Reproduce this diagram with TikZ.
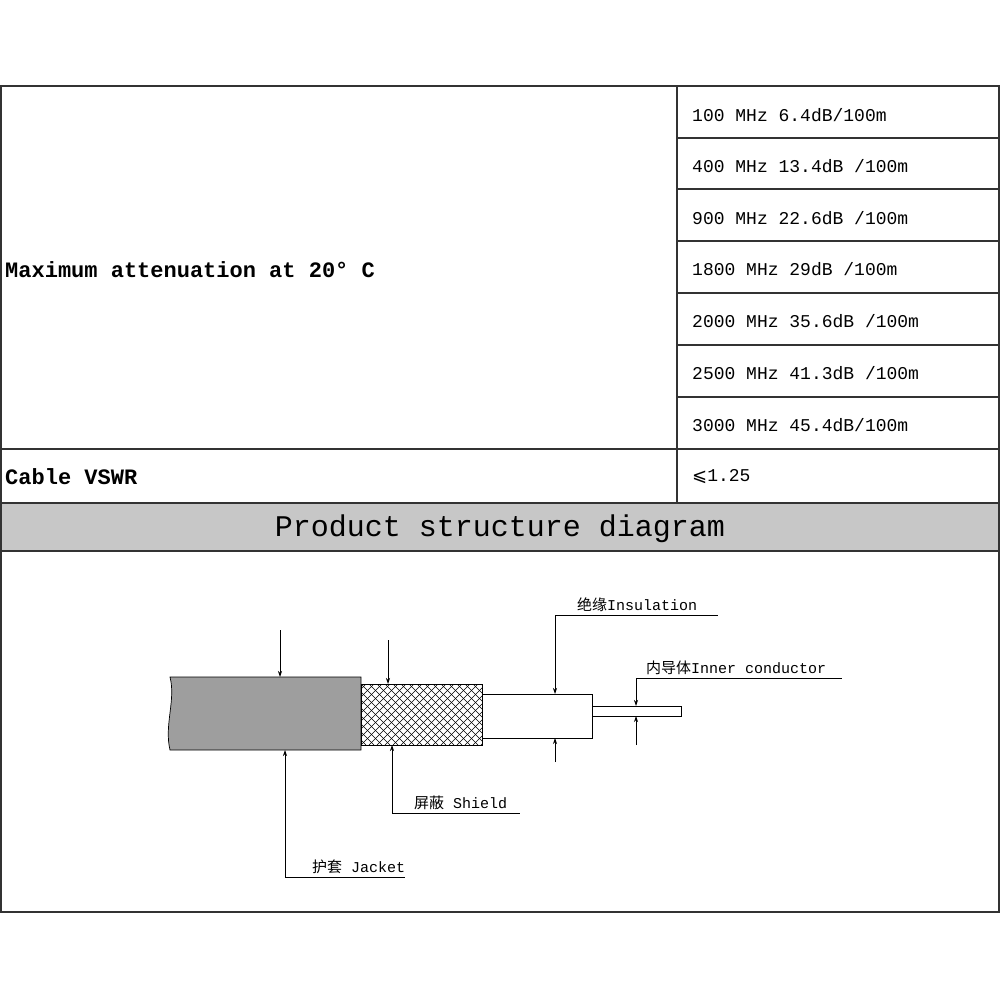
\documentclass[tikz,border=0pt]{standalone}
\usepackage{fontspec}
\setmainfont{Liberation Mono}
\newfontfamily\cjk{Noto Sans CJK SC}
\newfontfamily\dvs{DejaVu Sans}
\usetikzlibrary{arrows.meta}
\begin{document}
\begin{tikzpicture}[x=1pt,y=-1pt,
  grid/.style={line width=1.2pt,draw=black!80},
  cell/.style={anchor=west,inner sep=0pt,font=\fontsize{18}{20}\selectfont},
  lbl/.style={anchor=west,inner sep=0pt,font=\fontsize{15}{17}\selectfont},
  ln/.style={line width=0.7pt},
  arr/.style={line width=0.7pt,-{Stealth[length=6pt,width=4pt]}}]
\useasboundingbox (0,0) rectangle (1000,1000);
% table
\draw[grid] (1,86) rectangle (999,912);
\draw[grid] (677,86) -- (677,502);
\foreach \y in {138,189,241,293,345,397}{\draw[grid] (677,\y) -- (999,\y);}
\draw[grid] (1,449) -- (999,449);
\filldraw[grid,fill=black!22] (1,503) rectangle (999,551);
\node[cell,font=\fontsize{22}{24}\selectfont\bfseries] (att) at (5,270) {Maximum attenuation at 20° C};
\node[cell] (r1) at (692,115) {100 MHz 6.4dB/100m};
\node[cell] (r2) at (692,166) {400 MHz 13.4dB /100m};
\node[cell] (r3) at (692,218) {900 MHz 22.6dB /100m};
\node[cell] (r4) at (692,269) {1800 MHz 29dB /100m};
\node[cell] (r5) at (692,321) {2000 MHz 35.6dB /100m};
\node[cell] (r6) at (692,373) {2500 MHz 41.3dB /100m};
\node[cell] (r7) at (692,425) {3000 MHz 45.4dB/100m};
\node[cell,font=\fontsize{22}{24}\selectfont\bfseries] (vs) at (5,477) {Cable VSWR};
\node[cell] (vv) at (692,477) {{\dvs ⩽}1.25};
\node[inner sep=0pt,font=\fontsize{30}{32}\selectfont] (title) at (500,529) {Product structure diagram};
% cable
\filldraw[ln,fill=black!38] (361,677) -- (170,677) .. controls (176,700) and (164,725) .. (170,750) -- (361,750) -- cycle;
\begin{scope}
\clip (361,684) rectangle (482,745);
\foreach \i in {-80,-72,...,140}{
  \draw[line width=0.4pt] (361+\i,745) -- (361+\i+61,684);
  \draw[line width=0.4pt] (361+\i,684) -- (361+\i+61,745);}
\end{scope}
\draw[ln] (361,684) rectangle (482,745);
\draw[ln] (482,694) rectangle (592,738);
\draw[ln] (592,706) rectangle (681,716);
% jacket
\coordinate (jt) at (280,630); \coordinate (jte) at (280,677);
\draw[arr] (jt) -- (jte);
\coordinate (jb) at (285,750); \coordinate (jc) at (285,877); \coordinate (je) at (405,877);
\draw[arr] (jc) -- (jb); \draw[ln] (jc) -- (je);
\node[lbl,anchor=south west] (jl) at (312,874) {{\cjk 护套} Jacket};
% shield
\coordinate (st) at (388,640); \coordinate (ste) at (388,684);
\draw[arr] (st) -- (ste);
\coordinate (sb) at (392,745); \coordinate (sc) at (392,813); \coordinate (se) at (520,813);
\draw[arr] (sc) -- (sb); \draw[ln] (sc) -- (se);
\node[lbl,anchor=south west] (sl) at (414,810) {{\cjk 屏蔽} Shield};
% insulation
\coordinate (it) at (555,694); \coordinate (ic) at (555,615); \coordinate (ie) at (718,615);
\draw[arr] (ic) -- (it); \draw[ln] (ic) -- (ie);
\node[lbl,anchor=south west] (il) at (577,612) {{\cjk 绝缘}Insulation};
\coordinate (ib) at (555,762); \coordinate (ibe) at (555,738);
\draw[arr] (ib) -- (ibe);
% inner conductor
\coordinate (ct) at (636,706); \coordinate (cc) at (636,678); \coordinate (ce) at (842,678);
\draw[arr] (cc) -- (ct); \draw[ln] (cc) -- (ce);
\node[lbl,anchor=south west] (cl) at (646,675) {{\cjk 内导体}Inner conductor};
\coordinate (cb) at (636,745); \coordinate (cbe) at (636,716);
\draw[arr] (cb) -- (cbe);
\end{tikzpicture}
\end{document}
